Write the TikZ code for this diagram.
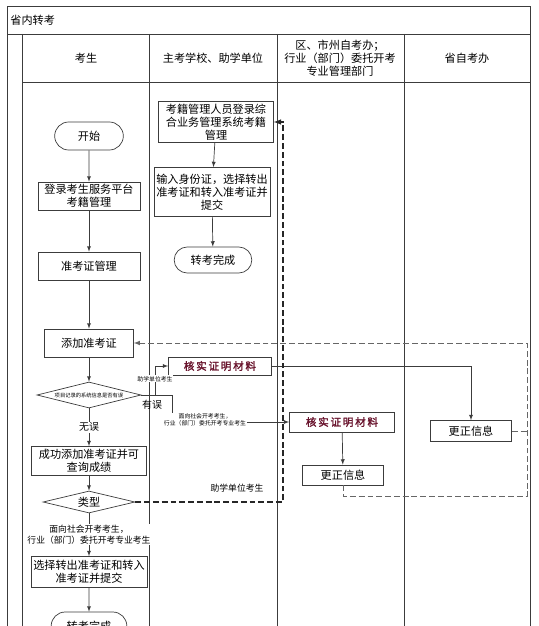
\documentclass[tikz,border=0pt]{standalone}
\usepackage{fontspec}
\setmainfont{Noto Sans CJK SC}
\newfontfamily\hsfont{Noto Sans CJK SC}[FakeBold=2]
\usetikzlibrary{shapes,shapes.geometric,arrows,calc}
\definecolor{lane}{RGB}{60,60,60}
\definecolor{hsred}{RGB}{105,20,45}

\begin{document}
\begin{tikzpicture}[x=0.03cm,y=-0.03cm,>=latex,
  every node/.style={font=\fontsize{9.5}{11}\selectfont, align=center, inner sep=1pt},
  box/.style={draw=lane, line width=0.6pt, rectangle},
  term/.style={draw=lane, line width=0.6pt, rounded rectangle},
  dec/.style={draw=lane, line width=0.6pt, diamond, aspect=4, inner sep=0pt},
  hs/.style={box, font=\hsfont\fontsize{9}{11}\selectfont, text=hsred},
  flow/.style={->, draw=lane, line width=0.6pt},
  back/.style={->, draw=black!85, line width=1.1pt, dash pattern=on 5pt off 2.5pt},
  redo/.style={->, draw=black!60, line width=0.8pt, dash pattern=on 5pt off 2.5pt},
  tiny/.style={font=\fontsize{5}{6}\selectfont, inner sep=0.5pt},
  lbl/.style={font=\fontsize{7.5}{9}\selectfont}]
\def\px{0.03cm}
\clip (0,0) rectangle (538,626);
% lanes
\draw[lane, line width=0.7pt] (7,640) -- (7,6) -- (530,6) -- (530,640);
\draw[lane, line width=0.7pt] (7,34) -- (530,34) (22,82) -- (530,82);
\foreach \x in {22,149,277,404} \draw[lane, line width=0.7pt] (\x,34) -- (\x,640);
\node[anchor=west] (title) at (9,20) {省内转考};
\node (hA) at (86,58) {考生};
\node (hB) at (213,58) {主考学校、助学单位};
\node (hC) at (340,58) {区、市州自考办；\\行业（部门）委托开考\\专业管理部门};
\node (hD) at (467,58) {省自考办};

% 考生
\node[term, minimum width=71*\px, minimum height=28*\px] (start) at (89,136) {开始};
\node[box, minimum width=102*\px, minimum height=28*\px] (login) at (89,196) {登录考生服务平台\\考籍管理};
\node[box, minimum width=102*\px, minimum height=28*\px] (card) at (89,266) {准考证管理};
\node[box, minimum width=89*\px, minimum height=28*\px] (add) at (89,343) {添加准考证};
\node[dec, minimum width=104*\px, minimum height=26*\px, font=\fontsize{4.5}{5}\selectfont] (chk) at (89,395) {项目记录的系统信息是否有误};
\node[box, minimum width=115*\px, minimum height=29*\px] (ok) at (89,461) {成功添加准考证并可\\查询成绩};
\node[dec, minimum width=92*\px, minimum height=22*\px] (type) at (89,502) {类型};
\node[box, minimum width=116*\px, minimum height=31*\px] (sel) at (89,572) {选择转出准考证和转入\\准考证并提交};
\node[term, minimum width=78*\px, minimum height=28*\px] (end1) at (89,626) {转考完成};

% 主考学校
\node[box, minimum width=115*\px, minimum height=41*\px] (mgr) at (216,122) {考籍管理人员登录综\\合业务管理系统考籍\\管理};
\node[box, minimum width=116*\px, minimum height=49*\px] (input) at (212,192) {输入身份证，选择转出\\准考证和转入准考证并\\提交};
\node[term, minimum width=80*\px, minimum height=26*\px] (end2) at (213,260) {转考完成};
\node[hs, minimum width=103*\px, minimum height=18*\px] (chkA) at (220,366) {核\,实\,证\,明\,材\,料};

% 区、市州
\node[hs, minimum width=105*\px, minimum height=20*\px] (chkB) at (342,422) {核\,实\,证\,明\,材\,料};
\node[box, minimum width=81*\px, minimum height=20*\px] (fixA) at (343,475) {更正信息};

% 省自考办
\node[box, minimum width=81*\px, minimum height=21*\px] (fixB) at (471,431) {更正信息};

\foreach \a/\b in {start/login,login/card,card/add,add/chk,ok/type,sel/end1,mgr/input,input/end2,chkB/fixA}
  \draw[flow] (\a) -- (\b);
\draw[flow] (chk) -- node[fill=white, font=\fontsize{8.5}{10}\selectfont] (noerr) {无误} (ok);
\draw[flow] (type) -- node[lbl, fill=white] (soc) {面向社会开考考生，\\行业（部门）委托开考专业考生} (sel);

\coordinate (bA) at (172,395);
\coordinate (bB) at (172,413);
\coordinate (bC) at (155,395);
\draw[lane, line width=0.6pt] (chk.east) -- (bA) -- (bB);
\draw[flow] (bC) |- node[pos=0.28, tiny, fill=white] (zx1) {助学单位考生} (chkA.west);
\node[font=\fontsize{8.5}{10}\selectfont] (err) at (152,405) {有误};
\node[tiny] (socB) at (205,420) {面向社会开考考生，\\行业（部门）委托开考专业考生};
\draw[flow] (socB.east |- chkB.west) -- (chkB.west);
\draw[flow] (chkA.east) -| (fixB.north);

\coordinate (lpA) at (283,122);
\draw[back] (type.east) -| (lpA) -- (mgr.east);
\node[lbl] (zx2) at (237,488) {助学单位考生};
\coordinate (lpB) at (527,496);
\coordinate (lpC) at (527,343);
\draw[redo] (fixA.south) |- (lpB) -- (lpC) -- (add.east);
\draw[redo, -] (fixB.east) -- (fixB.east -| lpB);
\end{tikzpicture}
\end{document}
